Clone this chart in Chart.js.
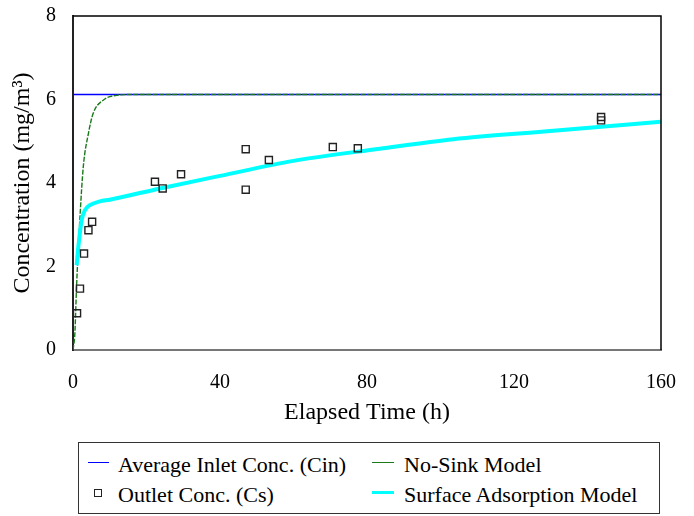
<!DOCTYPE html>
<html>
<head>
<meta charset="utf-8">
<script src="https://cdn.jsdelivr.net/npm/chart.js@4/dist/chart.umd.min.js"></script>
<style>
  html, body { margin: 0; padding: 0; background: #fff; }
  #wrap { position: relative; width: 694px; height: 516px; background: #fff; overflow: hidden; }
  #c { position: absolute; left: 0; top: 0; }
  #legend { position: absolute; left: 78px; top: 442px; width: 582px; height: 72px;
            border: 1.5px solid #333; box-sizing: border-box; font-family: 'Liberation Serif', serif;
            font-size: 22px; color: #000; }
  .lt { position: absolute; line-height: 22px; white-space: nowrap; }
  .ln { position: absolute; height: 0; }
  .sq { position: absolute; width: 6px; height: 6px; border: 1.3px solid #222; }
</style>
</head>
<body>
<div id="wrap">
  <canvas id="c" width="694" height="430"></canvas>
  <div id="legend">
    <div class="ln" style="left:9px; top:19px; width:21px; border-top:1.5px solid #0000ff;"></div>
    <div class="lt" style="left:39px; top:11px;">Average Inlet Conc. (Cin)</div>
    <div class="sq" style="left:15px; top:46px;"></div>
    <div class="lt" style="left:39px; top:41px;">Outlet Conc. (Cs)</div>
    <div class="ln" style="left:293px; top:19px; width:22px; border-top:1.5px solid #1a7a1a;"></div>
    <div class="lt" style="left:325px; top:11px;">No-Sink Model</div>
    <div class="ln" style="left:293px; top:48px; width:22px; border-top:3px solid #00ffff;"></div>
    <div class="lt" style="left:325px; top:41px;">Surface Adsorption Model</div>
  </div>
</div>
<script>
// ---- data ----
const inletTime = [0, 160];
const inletConc = [6.12, 6.12];

const noSinkTime = [0, 0.5, 1.0, 1.9, 2.8, 4.2, 5.5, 8.3, 11.9, 16.3, 40, 80, 120, 160];
const noSinkConc = [0, 0.39, 1.59, 3.19, 4.39, 5.19, 5.67, 5.99, 6.10, 6.12, 6.12, 6.12, 6.12, 6.12];

const outletTime = [1.1, 1.9, 3.0, 4.2, 5.2, 22.3, 24.4, 29.4, 47.0, 47.0, 53.3, 70.7, 77.5, 143.7, 143.7];
const outletConc = [0.88, 1.47, 2.31, 2.87, 3.07, 4.03, 3.87, 4.21, 4.81, 3.84, 4.55, 4.86, 4.83, 5.58, 5.50];

const adsorbTime = [1.0, 1.45, 2.36, 3.27, 4.6, 7.3, 10, 23.7, 40, 60, 83.5, 103.5, 130.7, 160];
const adsorbConc = [2.03, 2.47, 3.11, 3.35, 3.47, 3.56, 3.60, 3.87, 4.17, 4.53, 4.82, 5.05, 5.25, 5.47];

const xTicks = [0, 40, 80, 120, 160];
const yTicks = [0, 2, 4, 6, 8];

const pts = (xs, ys) => xs.map((x, i) => ({ x: x, y: ys[i] }));

const frame = {
  id: 'frame',
  afterDatasetsDraw(chart) {
    const a = chart.chartArea, ctx = chart.ctx;
    ctx.save();
    ctx.strokeStyle = '#000';
    ctx.lineWidth = 1.5;
    ctx.beginPath();
    ctx.moveTo(a.left, a.top);
    ctx.lineTo(a.right, a.top);
    ctx.lineTo(a.right, a.bottom);
    ctx.stroke();
    ctx.restore();
  }
};

const serif = "'Liberation Serif', 'Times New Roman', serif";

new Chart(document.getElementById('c'), {
  type: 'line',
  data: {
    datasets: [
      { label: 'Average Inlet Conc. (Cin)', data: pts(inletTime, inletConc),
        borderColor: '#0000ff', borderWidth: 1.5, pointRadius: 0, order: 4 },
      { label: 'No-Sink Model', data: pts(noSinkTime, noSinkConc),
        borderColor: '#1a7a1a', borderWidth: 1.4, borderDash: [5, 1.5], pointRadius: 0,
        cubicInterpolationMode: 'monotone', order: 3 },
      { label: 'Outlet Conc. (Cs)', data: pts(outletTime, outletConc), showLine: false,
        pointStyle: 'rect', pointRadius: 5, borderColor: '#222', borderWidth: 1.4,
        backgroundColor: 'rgba(0,0,0,0)', order: 1 },
      { label: 'Surface Adsorption Model', data: pts(adsorbTime, adsorbConc),
        borderColor: '#00ffff', borderWidth: 4, pointRadius: 0,
        cubicInterpolationMode: 'monotone', order: 2 }
    ]
  },
  options: {
    responsive: false,
    animation: false,
    layout: { padding: { top: 16, right: 33, left: 0, bottom: 0 } },
    plugins: { legend: { display: false }, tooltip: { enabled: false } },
    scales: {
      x: {
        type: 'linear', min: 0, max: 160,
        afterBuildTicks: s => { s.ticks = xTicks.map(v => ({ value: v })); },
        afterFit: s => { s.height = 80; },
        grid: { display: false, drawTicks: true, tickLength: 21 },
        border: { display: true, color: '#777', width: 2 },
        ticks: { color: '#000', padding: 0, maxRotation: 0, font: { family: serif, size: 20 } },
        title: { display: true, text: 'Elapsed Time (h)', color: '#000',
                 font: { family: serif, size: 24 }, padding: { top: 0, bottom: 3 } }
      },
      y: {
        type: 'linear', min: 0, max: 8,
        afterBuildTicks: s => { s.ticks = yTicks.map(v => ({ value: v })); },
        afterFit: s => { s.width = 73; },
        grid: { display: false, drawTicks: true, tickLength: 17 },
        border: { display: true, color: '#222', width: 2 },
        ticks: { color: '#000', padding: 0, font: { family: serif, size: 20 } },
        title: { display: true, text: 'Concentration (mg/m³)', color: '#000',
                 font: { family: serif, size: 24 }, padding: { top: 8, bottom: 0 } }
      }
    }
  },
  plugins: [frame]
});
</script>
</body>
</html>
